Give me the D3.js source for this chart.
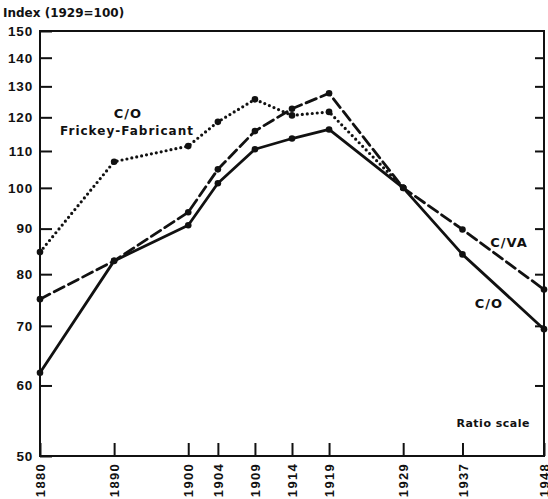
<!DOCTYPE html>
<html lang="en">
  <head>
    <meta charset="UTF-8" />
    <title>Index (1929=100)</title>
    <script src="https://d3js.org/d3.v7.min.js"></script>
    <style>
      body {
        margin: 0;
        background: #fff;
        font-family: "DejaVu Sans", sans-serif;
      }
      svg {
        display: block;
      }
      text {
        fill: #111;
        font-weight: bold;
      }
    </style>
  </head>
  <body>
    <svg id="chart" width="548" height="499"></svg>

    <script>
      // values (ratio scale, 1929 = 100)
      const years = [1880, 1890, 1900, 1904, 1909, 1914, 1919, 1929, 1937, 1948];
      const coValues = [62, 82.8, 90.8, 101.2, 110.5, 113.6, 116.3, 100, 84.2, 69.4];
      const cvaValues = [75, 82.8, 93.9, 104.9, 115.8, 122.7, 127.7, 100, 89.8, 76.9];
      const frickeyYears = [1880, 1890, 1900, 1904, 1909, 1914, 1919, 1929];
      const frickeyValues = [84.7, 107, 111.4, 118.6, 125.7, 120.6, 121.7, 100];
      const yTicks = [50, 60, 70, 80, 90, 100, 110, 120, 130, 140, 150];

      const plot = { left: 40, right: 544, top: 31, bottom: 456 };

      const svg = d3.select("#chart");

      const x = d3.scaleLinear().domain([1880, 1948]).range([plot.left, plot.right]);
      const y = d3.scaleLog().domain([50, 150]).range([plot.bottom, plot.top]);

      // left axis: inner ticks, labels outside
      const leftAxis = svg
        .append("g")
        .attr("transform", `translate(${plot.left},0)`)
        .call(
          d3.axisLeft(y).tickValues(yTicks).tickFormat(d3.format("d")).tickSize(-12).tickPadding(7)
        );
      leftAxis.select(".domain").remove();
      leftAxis.selectAll("line").attr("stroke", "#111").attr("stroke-width", 2);
      leftAxis
        .selectAll("text")
        .style("font-size", "13.5px")
        .style("letter-spacing", "0.8px")
        .attr("fill", "#111");

      // right axis: inner ticks only
      const rightAxis = svg
        .append("g")
        .attr("transform", `translate(${plot.right},0)`)
        .call(d3.axisRight(y).tickValues(yTicks.slice(1, -1)).tickSize(-9).tickFormat(""));
      rightAxis.select(".domain").remove();
      rightAxis.selectAll("line").attr("stroke", "#111").attr("stroke-width", 2);

      // bottom axis: upward ticks, rotated year labels
      const bottomAxis = svg
        .append("g")
        .attr("transform", `translate(0,${plot.bottom})`)
        .call(d3.axisBottom(x).tickValues(years).tickFormat(d3.format("d")).tickSize(-13));
      bottomAxis.select(".domain").remove();
      bottomAxis.selectAll("line").attr("stroke", "#111").attr("stroke-width", 2);
      bottomAxis
        .selectAll("text")
        .attr("transform", "rotate(-90)")
        .attr("x", -7)
        .attr("y", 0)
        .attr("dy", "0.35em")
        .attr("text-anchor", "end")
        .style("font-size", "13px")
        .style("letter-spacing", "1.3px")
        .attr("fill", "#111");

      // frame
      svg
        .append("rect")
        .attr("x", plot.left)
        .attr("y", plot.top)
        .attr("width", plot.right - plot.left)
        .attr("height", plot.bottom - plot.top)
        .attr("fill", "none")
        .attr("stroke", "#111")
        .attr("stroke-width", 2);

      const line = d3
        .line()
        .x((d) => x(d[0]))
        .y((d) => y(d[1]));

      const series = [
        { yrs: years, vals: coValues, dash: null, width: 2.8 },
        { yrs: years, vals: cvaValues, dash: "11 5", width: 2.8 },
        { yrs: frickeyYears, vals: frickeyValues, dash: "0 5", width: 3.2 },
      ];

      series.forEach((s) => {
        const pts = s.yrs.map((yr, i) => [yr, s.vals[i]]);
        svg
          .append("path")
          .datum(pts)
          .attr("d", line)
          .attr("fill", "none")
          .attr("stroke", "#111")
          .attr("stroke-width", s.width)
          .attr("stroke-linecap", "round")
          .attr("stroke-linejoin", "round")
          .attr("stroke-dasharray", s.dash);
        svg
          .append("g")
          .selectAll("circle")
          .data(pts)
          .enter()
          .append("circle")
          .attr("cx", (d) => x(d[0]))
          .attr("cy", (d) => y(d[1]))
          .attr("r", 3.3)
          .attr("fill", "#111");
      });

      // texts
      svg.append("text").attr("x", 3).attr("y", 17).style("font-size", "12px").text("Index (1929=100)");

      svg
        .append("text")
        .attr("x", 128)
        .attr("y", 118)
        .attr("text-anchor", "middle")
        .style("font-size", "13px")
        .style("letter-spacing", "1px")
        .text("C/O");
      svg
        .append("text")
        .attr("x", 127)
        .attr("y", 135)
        .attr("text-anchor", "middle")
        .style("font-size", "12px")
        .style("letter-spacing", "1px")
        .text("Frickey-Fabricant");
      svg
        .append("text")
        .attr("x", 509)
        .attr("y", 247)
        .attr("text-anchor", "middle")
        .style("font-size", "13px")
        .style("letter-spacing", "1px")
        .text("C/VA");
      svg
        .append("text")
        .attr("x", 489)
        .attr("y", 308)
        .attr("text-anchor", "middle")
        .style("font-size", "13px")
        .style("letter-spacing", "1px")
        .text("C/O");
      svg
        .append("text")
        .attr("x", 530)
        .attr("y", 427)
        .attr("text-anchor", "end")
        .style("font-size", "11px")
        .style("letter-spacing", "0.5px")
        .text("Ratio scale");
    </script>
  </body>
</html>
